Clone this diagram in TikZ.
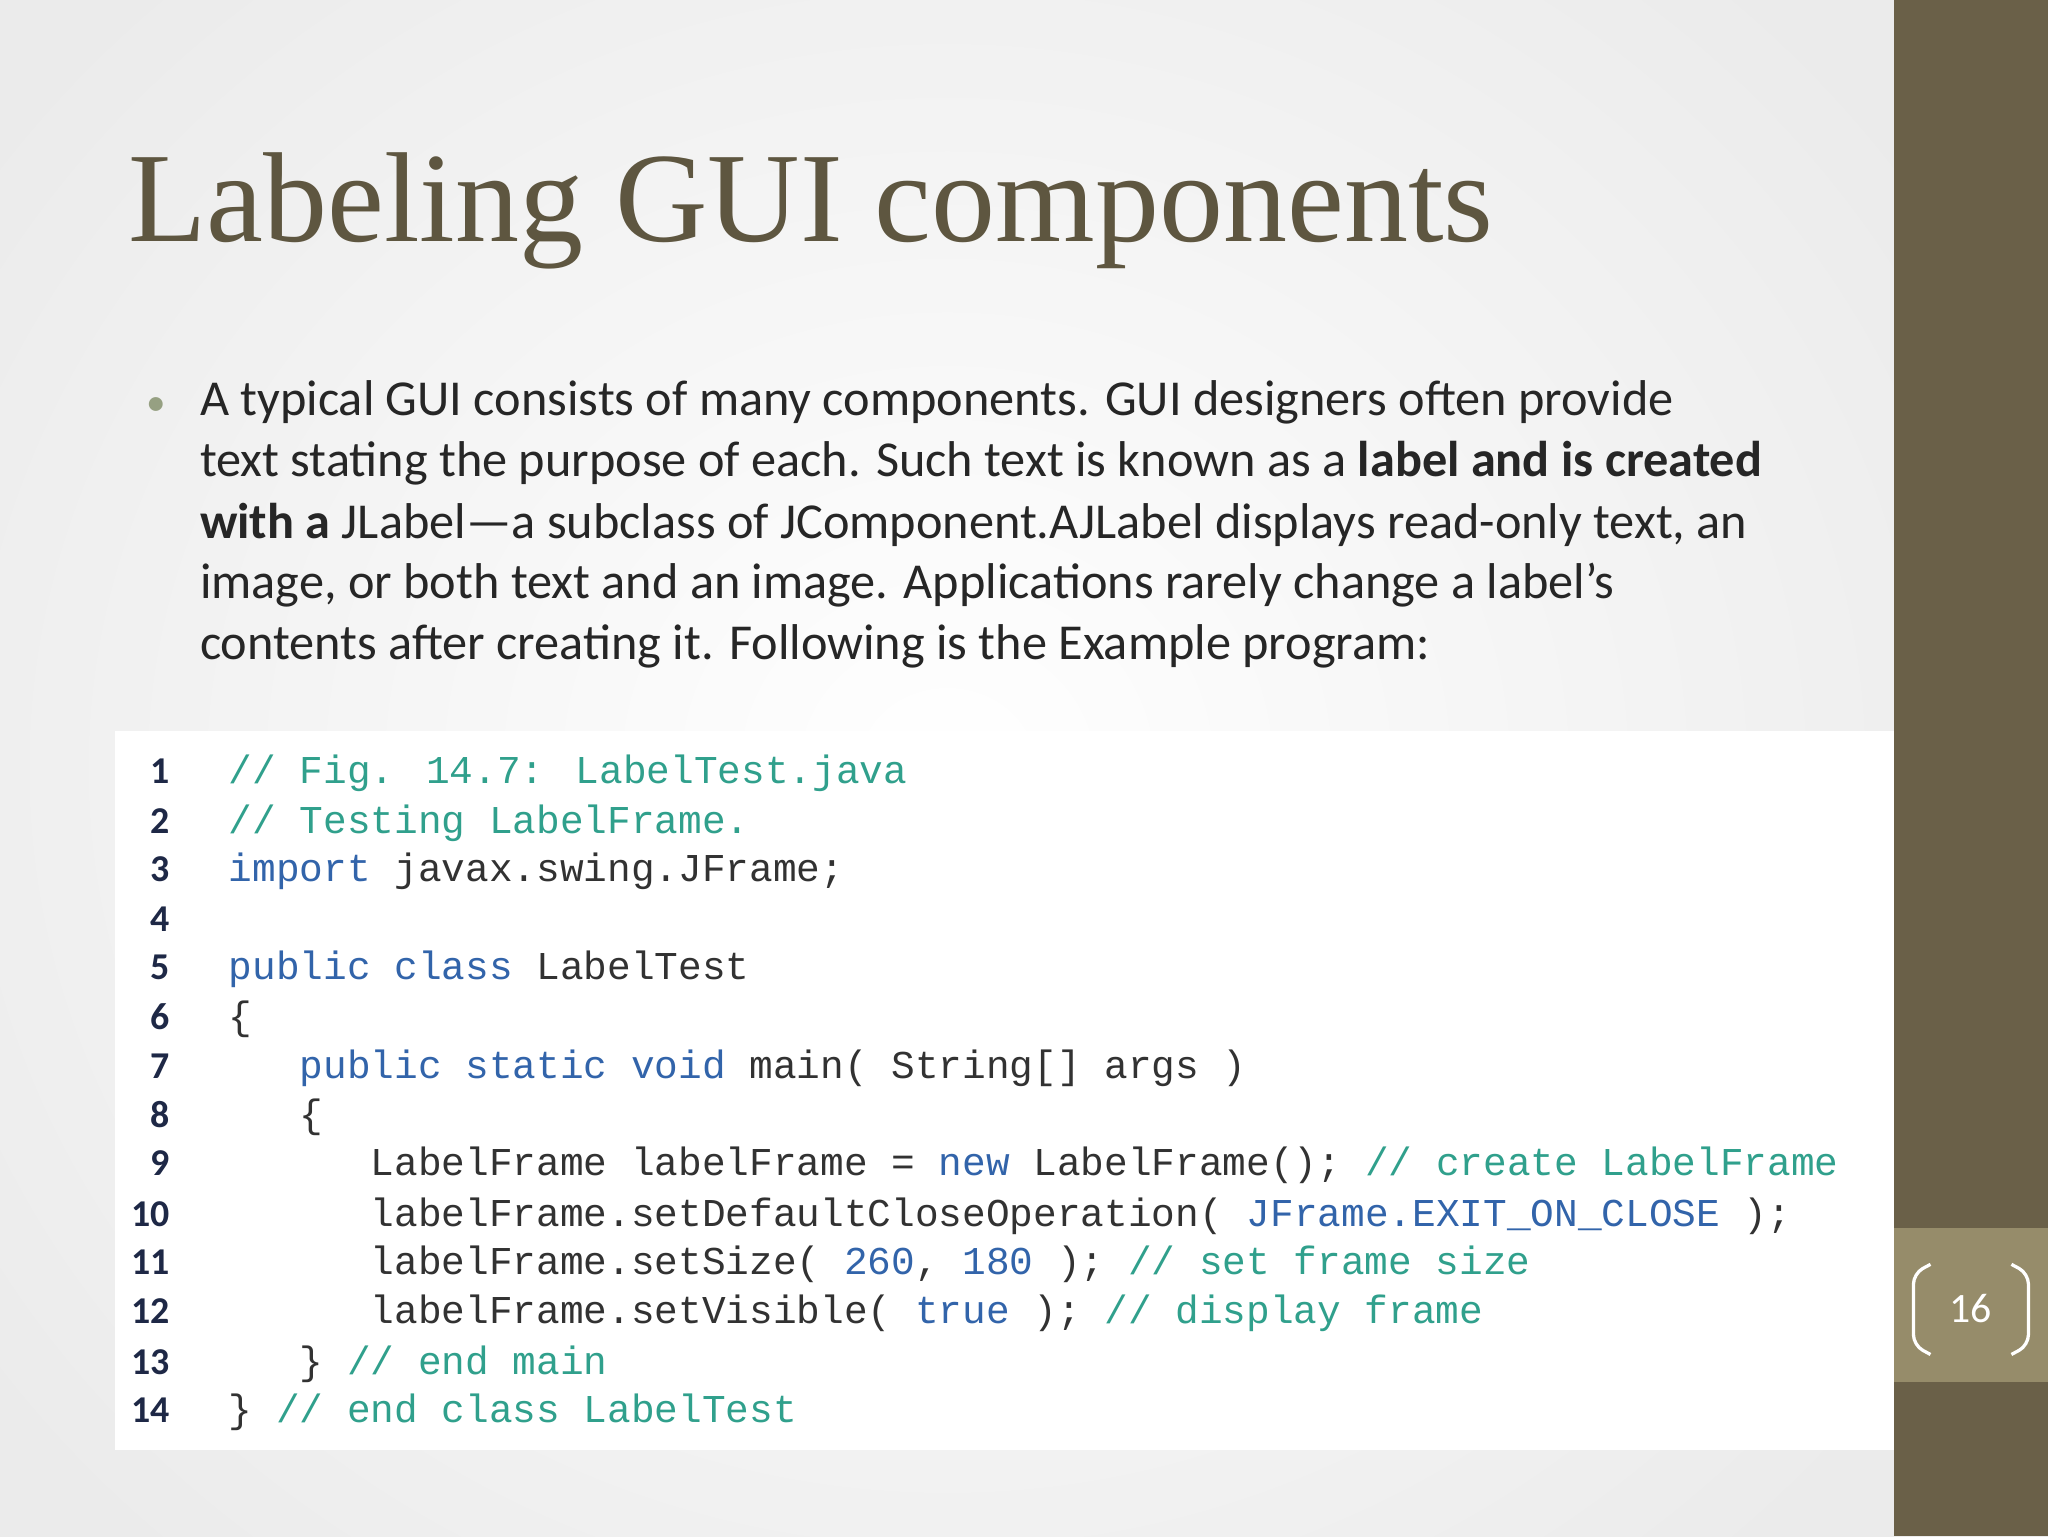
\documentclass[tikz,border=0pt]{standalone}
\usepackage{fontspec}
\setmainfont{Carlito}
\newfontfamily\titlefont{Liberation Serif}
\newfontfamily\codefont{Liberation Mono}
\definecolor{bar}{RGB}{106,96,72}
\definecolor{pagebox}{RGB}{150,140,106}
\definecolor{titlec}{RGB}{94,86,64}
\definecolor{bulletc}{RGB}{150,160,130}
\definecolor{cmt}{RGB}{48,160,140}
\definecolor{kw}{RGB}{50,100,170}
\definecolor{txt}{RGB}{50,50,50}
\definecolor{num}{RGB}{30,40,70}
\tikzset{
  body/.style={anchor=base west,inner sep=0pt,font=\fontsize{38.5}{44}\selectfont,text=black!85},
  code/.style={anchor=base west,inner sep=0pt,font=\codefont\fontsize{30.2}{34}\selectfont,text=txt},
  lnum/.style={anchor=base east,inner sep=0pt,font=\bfseries\fontsize{29}{32}\selectfont,text=num}
}
\newcommand{\cm}[1]{\textcolor{cmt}{#1}}
\newcommand{\kwd}[1]{\textcolor{kw}{#1}}
\begin{document}
\begin{tikzpicture}[x=1pt,y=-1pt]
\useasboundingbox (0,0) rectangle (1568,1176);
\fill[black!8] (0,0) rectangle (1450,1176);
\shade[inner color=white,outer color=black!8] (-200,-250) rectangle (1650,1426);
\fill[bar] (1450,0) rectangle (1568,1176);
\fill[pagebox] (1450,940) rectangle (1568,1058);
\draw[white,line width=2.5pt,rounded corners=8pt] (1478,968) -- (1465,975) -- (1465,1030) -- (1478,1037);
\draw[white,line width=2.5pt,rounded corners=8pt] (1540,968) -- (1553,975) -- (1553,1030) -- (1540,1037);
\node (pg) at (1509,1002) {\fontsize{32}{36}\selectfont\textcolor{white}{16}};
\node (title) [anchor=base west,inner sep=0pt,font=\titlefont\fontsize{98}{110}\selectfont,text=titlec] at (98,185) {Labeling GUI components};
\node (bul) [anchor=base west,inner sep=0pt,font=\fontsize{30}{34}\selectfont,text=bulletc] at (112,318) {•};
\node (l1) [body] at (153,318) {A typical GUI consists of many components. GUI designers often provide};
\node (l2) [body] at (153,365) {text stating the purpose of each. Such text is known as a \textbf{label and is created}};
\node (l3) [body] at (153,412) {\textbf{with a} JLabel—a subclass of JComponent.AJLabel displays read-only text, an};
\node (l4) [body] at (153,458) {image, or both text and an image. Applications rarely change a label’s};
\node (l5) [body] at (153,505) {contents after creating it. Following is the Example program:};
\fill[white] (88,560) rectangle (1450,1110);
\foreach \i/\y in {1/600,2/638,3/675,4/713,5/750,6/788,7/826,8/863,9/900,10/939,11/976,12/1013,13/1052,14/1089}
  \node (n\i) [lnum] at (130,\y) {\i};
\node (c1) [code] at (175,600) {\cm{// Fig. 14.7: LabelTest.java}};
\node (c2) [code] at (175,638) {\cm{// Testing LabelFrame.}};
\node (c3) [code] at (175,675) {\kwd{import} javax.swing.JFrame;};
\node (c5) [code] at (175,750) {\kwd{public class} LabelTest};
\node (c6) [code] at (175,788) {\{};
\node (c7) [code] at (175,826) {\phantom{xxx}\kwd{public static void} main( String[] args )};
\node (c8) [code] at (175,863) {\phantom{xxx}\{};
\node (c9) [code] at (175,900) {\phantom{xxxxxx}LabelFrame labelFrame = \kwd{new} LabelFrame(); \cm{// create LabelFrame}};
\node (c10) [code] at (175,939) {\phantom{xxxxxx}labelFrame.setDefaultCloseOperation( \kwd{JFrame.EXIT\_ON\_CLOSE} );};
\node (c11) [code] at (175,976) {\phantom{xxxxxx}labelFrame.setSize( \kwd{260}, \kwd{180} ); \cm{// set frame size}};
\node (c12) [code] at (175,1013) {\phantom{xxxxxx}labelFrame.setVisible( \kwd{true} ); \cm{// display frame}};
\node (c13) [code] at (175,1052) {\phantom{xxx}\} \cm{// end main}};
\node (c14) [code] at (175,1089) {\} \cm{// end class LabelTest}};
\end{tikzpicture}
\end{document}
